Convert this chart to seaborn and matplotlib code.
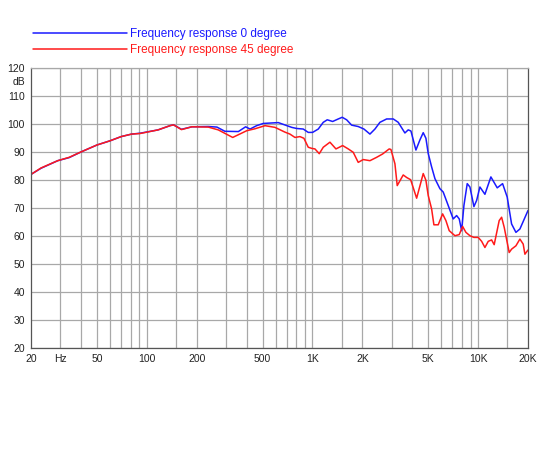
import matplotlib
matplotlib.use('Agg')
import matplotlib.pyplot as plt
from matplotlib.ticker import NullFormatter
import seaborn as sns
import pandas as pd

# Frequency response 0 degree (blue)
freq_0 = [20, 23, 29, 34, 40, 50, 60, 70, 81, 91, 117, 138, 145, 162, 187, 235, 265, 296,
          357, 395, 420, 460, 505, 622, 749, 803, 880, 943, 1002, 1084, 1162, 1228, 1324,
          1431, 1512, 1608, 1723, 1889, 2045, 2223, 2383, 2554, 2804, 3074, 3294, 3614,
          3784, 3930, 4212, 4452, 4662, 4840, 4996, 5238, 5485, 5879, 6154, 6597, 7073,
          7416, 7690, 7950, 8208, 8594, 8922, 9432, 9794, 10250, 10990, 11940, 13040,
          14050, 14980, 15920, 16910, 17870, 20000]
db_0 = [82.0, 84.2, 86.9, 88.0, 90.0, 92.5, 94.0, 95.5, 96.4, 96.7, 97.9, 99.4, 99.7, 98.1,
        99.0, 99.1, 98.9, 97.4, 97.3, 99.0, 98.2, 99.4, 100.2, 100.5, 98.8, 98.4, 98.2,
        97.0, 97.0, 98.2, 100.6, 101.5, 100.9, 101.8, 102.4, 101.5, 99.6, 99.1, 98.2,
        96.4, 98.2, 100.6, 101.8, 101.8, 100.6, 96.8, 97.9, 97.5, 90.7, 94.3, 96.9, 94.9,
        89.5, 84.7, 80.5, 76.9, 75.7, 70.9, 66.1, 67.3, 66.1, 61.9, 70.9, 78.7, 77.5,
        70.5, 72.7, 77.5, 74.9, 81.1, 77.2, 78.7, 73.9, 64.3, 61.3, 62.5, 69.1]

# Frequency response 45 degree (red)
freq_45 = [20, 23, 29, 34, 40, 50, 60, 70, 81, 91, 117, 138, 145, 162, 187, 235, 270, 330,
           401, 450, 517, 594, 682, 731, 784, 840, 888, 943, 989, 1035, 1099, 1162, 1275,
           1386, 1521, 1644, 1762, 1889, 2025, 2223, 2440, 2652, 2906, 2976, 3146, 3248,
           3530, 3702, 3914, 4254, 4662, 4840, 4996, 5238, 5408, 5742, 6104, 6390, 6692,
           7244, 7690, 8062, 8438, 8922, 9432, 10010, 10500, 10990, 11510, 12060, 12500,
           13400, 13860, 14370, 15400, 15920, 16910, 17870, 18710, 19160, 20000]
db_45 = [82.0, 84.3, 86.9, 88.1, 90.0, 92.5, 94.0, 95.5, 96.4, 96.6, 97.9, 99.4, 99.7, 98.0,
         99.0, 98.9, 97.9, 95.2, 97.6, 98.3, 99.4, 98.8, 97.1, 96.4, 95.2, 95.5, 94.9,
         91.7, 91.3, 91.1, 89.4, 91.7, 93.5, 91.1, 92.3, 91.1, 89.9, 86.3, 87.3, 86.9,
         88.1, 89.3, 91.1, 90.9, 85.8, 78.0, 81.8, 80.9, 80.1, 73.5, 82.3, 79.9, 74.5,
         69.7, 64.0, 64.0, 67.9, 65.5, 61.9, 60.1, 60.5, 63.4, 61.3, 60.1, 59.5, 59.5,
         58.1, 55.9, 58.1, 58.6, 56.9, 65.5, 66.7, 63.1, 54.1, 55.3, 56.5, 58.9, 57.1,
         53.5, 55.0]

x_ticks = [20, 30, 50, 100, 200, 500, 1000, 2000, 5000, 10000, 20000]
x_labels = ['20', 'Hz', '50', '100', '200', '500', '1K', '2K', '5K', '10K', '20K']
x_grid = [30, 40, 50, 60, 70, 80, 90, 100, 150, 200, 300, 400, 500, 600, 700, 800, 900,
          1000, 1500, 2000, 3000, 4000, 5000, 6000, 7000, 8000, 9000, 10000, 15000]
y_ticks = list(range(20, 121, 10))

sns.set_theme(style='white')
plt.rcParams['font.family'] = ['Liberation Sans', 'DejaVu Sans']

df0 = pd.DataFrame({'freq': freq_0, 'db': db_0})
df45 = pd.DataFrame({'freq': freq_45, 'db': db_45})

fig = plt.figure(figsize=(5.5, 4.5), dpi=100)
ax = fig.add_axes([31 / 550, 1 - 348 / 450, 497 / 550, 280 / 450])

sns.lineplot(data=df0, x='freq', y='db', ax=ax, color='#1a1aff', lw=1.1,
             label='Frequency response 0 degree')
sns.lineplot(data=df45, x='freq', y='db', ax=ax, color='#ff1a1a', lw=1.1,
             label='Frequency response 45 degree')

ax.set_xscale('log')
ax.set_xlim(20, 20000)
ax.set_ylim(20, 120)
ax.set_xticks(x_ticks)
ax.set_xticklabels(x_labels)
ax.set_xticks(x_grid, minor=True)
ax.xaxis.set_minor_formatter(NullFormatter())
ax.set_yticks(y_ticks)
ax.set_yticklabels([str(v) for v in y_ticks])
ax.set_xlabel('')
ax.set_ylabel('')

for v in x_grid:
    ax.axvline(v, color='#a8a8a8', lw=0.9, zorder=0)
for v in y_ticks:
    ax.axhline(v, color='#a8a8a8', lw=0.9, zorder=0)

ax.tick_params(axis='x', which='both', length=0, labelsize=7.5, colors='#222222', pad=4)
ax.tick_params(axis='y', length=3, width=0.8, color='#555555', labelsize=7.5,
               labelcolor='#222222', pad=1.5)
ax.tick_params(axis='y', which='minor', length=0)

for side in ['left', 'bottom', 'right']:
    ax.spines[side].set_color('#555555')
    ax.spines[side].set_linewidth(0.9)
ax.spines['top'].set_color('#a8a8a8')
ax.spines['top'].set_linewidth(0.9)

ax.text(-0.012, 115, 'dB', transform=ax.get_yaxis_transform(), ha='right', va='center',
        fontsize=7.5, color='#222222')

ax.legend(loc='upper left', bbox_to_anchor=(33 / 550, 1 - 28 / 450),
          bbox_transform=fig.transFigure, frameon=False, fontsize=8.5,
          handlelength=8.0, handletextpad=0.25, labelspacing=0.35,
          borderpad=0, borderaxespad=0, labelcolor='linecolor')

fig.savefig('out.png', dpi=100)
